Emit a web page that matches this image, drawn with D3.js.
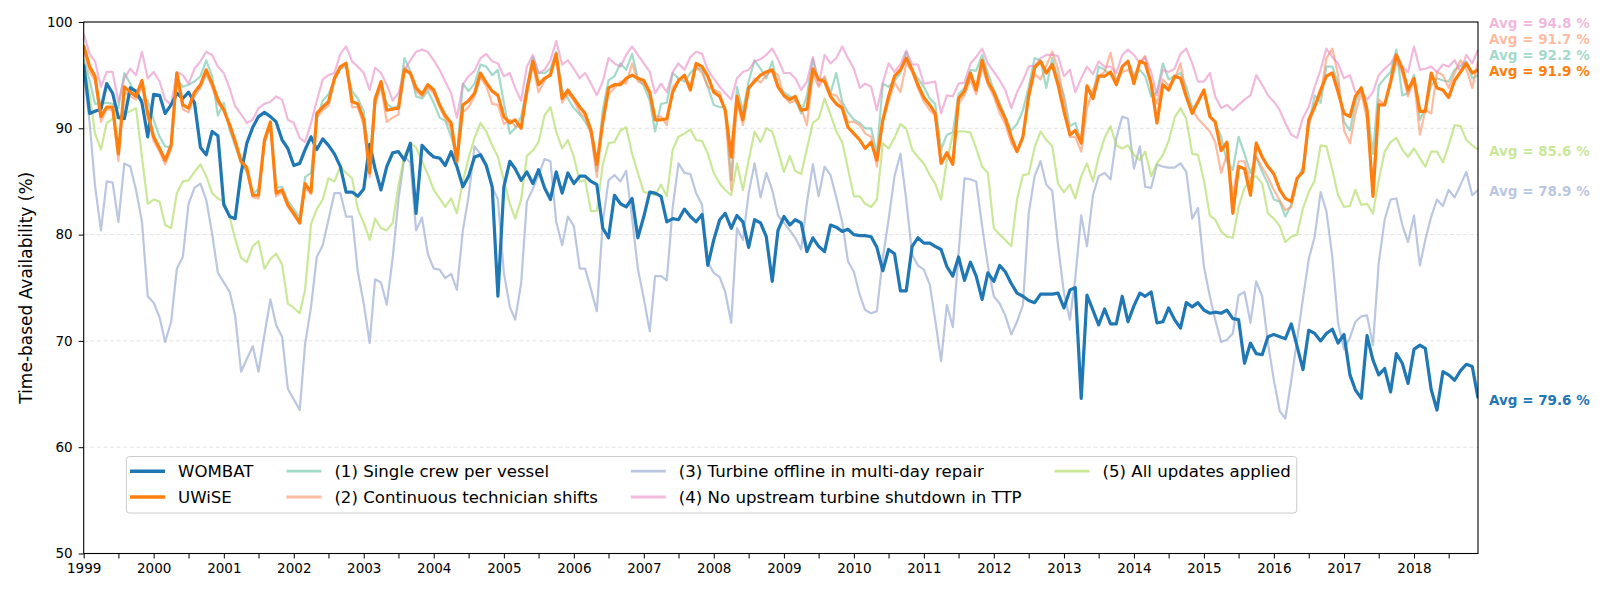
<!DOCTYPE html>
<html>
<head>
<meta charset="utf-8">
<script src="https://cdn.jsdelivr.net/npm/d3@7"></script>
<style>
  html, body { margin: 0; padding: 0; background: #ffffff; }
  svg { display: block; font-family: "DejaVu Sans", sans-serif; }
</style>
</head>
<body>
<svg id="chart" width="1607" height="597"></svg>
<script>
// ---------------- DATA (monthly, Jan 1999 .. Dec 2018) ----------------
const startMonth = Date.UTC(1999, 0, 1);
const endMonth = Date.UTC(2018, 11, 1);
const yTicks = [50, 60, 70, 80, 90, 100];

const wombat = [
  96.0, 91.4, 91.6, 91.8, 94.2, 93.3, 91.0, 90.9, 93.8, 93.5, 92.4, 89.2,
  93.2, 93.1, 91.4, 92.2, 93.3, 92.8, 93.4, 92.4, 88.2, 87.5, 89.7, 89.3,
  82.8, 81.7, 81.5, 85.8, 88.6, 90.1, 91.1, 91.5, 91.1, 90.6, 88.9, 88.1,
  86.5, 86.7, 88.0, 89.2, 88.0, 89.0, 88.4, 87.6, 86.4, 84.0, 84.0, 83.6,
  84.3, 88.5, 86.2, 84.2, 86.4, 87.7, 87.8, 87.0, 88.6, 82.0, 88.4, 87.8,
  87.3, 87.2, 86.5, 87.8, 86.4, 84.5, 85.5, 87.3, 87.5, 86.5, 84.5, 74.2,
  84.5, 86.9, 86.2, 85.1, 85.9, 84.8, 86.1, 84.4, 83.3, 85.9, 83.9, 85.8,
  84.8, 85.5, 85.5, 85.0, 84.7, 80.6, 79.7, 83.7, 82.9, 82.6, 83.4, 79.7,
  81.7, 84.0, 83.9, 83.6, 81.2, 81.5, 81.4, 82.4, 81.7, 81.2, 81.9, 77.1,
  79.5, 81.4, 82.0, 80.6, 81.8, 81.2, 78.8, 81.4, 81.1, 79.8, 75.6, 80.4,
  81.7, 80.9, 81.4, 81.1, 78.4, 79.7, 78.9, 78.4, 80.9, 80.7, 80.3, 80.5,
  80.0, 79.9, 79.9, 79.8, 78.8, 76.6, 78.6, 78.2, 74.7, 74.7, 78.9, 79.7,
  79.2, 79.2, 78.9, 78.6, 77.0, 76.1, 77.9, 75.7, 77.4, 76.1, 73.9, 76.4,
  75.6, 77.1, 76.5, 75.4, 74.5, 74.2, 73.8, 73.6, 74.4, 74.4, 74.4, 74.5,
  73.1, 74.8, 75.0, 64.6, 74.3, 72.9, 71.5, 73.0, 71.6, 71.6, 74.2, 71.8,
  73.3, 74.5, 74.2, 74.6, 71.7, 71.8, 73.1, 72.0, 71.2, 73.6, 73.2, 73.6,
  72.9, 72.6, 72.7, 72.6, 72.9, 72.1, 72.0, 67.9, 69.8, 68.8, 68.7, 70.4,
  70.6, 70.4, 70.2, 71.6, 69.5, 67.3, 71.0, 70.7, 70.0, 70.7, 71.1, 69.8,
  70.6, 66.8, 65.4, 64.6, 70.5, 68.2, 66.8, 67.4, 65.2, 68.8, 67.9, 66.0,
  69.2, 69.6, 69.3, 65.4, 63.5, 67.1, 66.8, 66.3, 67.2, 67.8, 67.6, 64.6
];

const uwise = [
  97.8, 95.8, 94.9, 91.1, 92.0, 92.0, 87.6, 93.9, 93.4, 93.0, 94.5, 91.4,
  89.2, 88.1, 87.0, 88.4, 95.2, 92.2, 91.9, 93.4, 94.1, 95.5, 94.2, 92.7,
  91.7, 90.3, 88.8, 86.9, 86.3, 83.7, 83.7, 88.9, 90.6, 83.9, 84.2, 82.8,
  82.0, 81.1, 84.8, 84.0, 91.4, 92.0, 92.5, 94.7, 95.8, 96.1, 92.5, 92.3,
  90.8, 85.8, 92.7, 94.4, 91.7, 91.8, 91.9, 95.5, 95.2, 93.8, 93.2, 94.1,
  93.6, 92.2, 91.2, 90.5, 86.9, 92.2, 92.6, 93.3, 95.2, 94.3, 93.5, 93.1,
  91.1, 90.5, 90.8, 90.0, 93.6, 96.3, 94.1, 94.7, 95.0, 97.0, 92.8, 93.6,
  92.8, 92.0, 91.4, 89.8, 86.6, 90.6, 93.8, 94.1, 94.1, 94.7, 95.0, 94.7,
  94.5, 93.4, 90.8, 90.8, 90.9, 93.4, 94.5, 95.0, 93.6, 96.1, 95.8, 94.9,
  93.4, 93.0, 91.7, 87.3, 93.0, 90.8, 93.8, 94.4, 95.0, 95.3, 95.5, 93.9,
  93.1, 92.7, 93.0, 91.7, 91.8, 95.6, 94.6, 94.4, 93.0, 92.3, 91.9, 90.1,
  89.5, 88.9, 88.1, 88.7, 87.0, 90.8, 93.0, 94.9, 95.5, 96.6, 95.5, 94.1,
  92.9, 92.2, 91.4, 86.7, 87.7, 86.6, 92.8, 93.5, 95.2, 93.6, 96.4, 94.4,
  93.4, 92.0, 90.9, 89.2, 87.8, 89.2, 93.1, 95.7, 96.3, 95.2, 96.0, 94.1,
  91.6, 89.4, 89.8, 88.6, 94.0, 92.8, 94.9, 94.9, 95.3, 94.1, 95.8, 96.3,
  94.2, 96.3, 96.1, 94.2, 90.5, 94.1, 93.6, 94.9, 94.7, 93.0, 91.4, 92.5,
  93.6, 91.1, 90.6, 87.9, 88.7, 82.0, 86.4, 86.2, 83.7, 88.6, 87.3, 86.4,
  85.7, 84.2, 83.4, 83.1, 85.3, 85.9, 90.8, 92.0, 93.6, 94.9, 95.2, 93.4,
  91.4, 91.1, 93.0, 93.8, 91.7, 83.6, 92.2, 92.2, 94.4, 96.9, 95.6, 93.6,
  94.7, 91.6, 91.6, 95.2, 93.8, 93.6, 92.9, 94.5, 95.3, 96.1, 95.2, 95.5
];

const singleCrew = [
  96.5, 94.5, 92.3, 92.4, 92.4, 92.3, 91.9, 95.2, 94.2, 93.1, 92.7, 92.6,
  90.8, 89.2, 88.3, 88.2, 94.7, 93.9, 94.1, 94.4, 94.9, 96.4, 94.9, 91.2,
  92.4, 89.8, 88.4, 86.7, 85.9, 83.8, 84.3, 88.6, 90.4, 84.4, 84.5, 83.2,
  82.4, 81.6, 85.4, 85.8, 90.9, 92.6, 93.2, 94.6, 95.6, 95.8, 93.5, 92.8,
  91.6, 86.8, 93.0, 94.1, 92.3, 91.9, 92.1, 96.6, 95.4, 93.0, 92.8, 93.5,
  92.4, 91.0, 90.7, 89.2, 87.3, 94.2, 93.5, 94.2, 96.0, 95.8, 95.0, 95.5,
  92.4, 89.5, 90.0, 91.1, 93.9, 96.7, 95.2, 95.2, 95.6, 97.2, 93.6, 92.8,
  91.9, 91.3, 90.6, 89.7, 86.0, 91.7, 94.5, 94.9, 96.1, 95.5, 97.0, 94.7,
  94.0, 92.6, 89.7, 92.3, 92.4, 95.2, 94.7, 94.4, 95.2, 95.8, 95.5, 93.9,
  92.2, 92.0, 92.0, 85.1, 93.9, 91.6, 94.4, 96.4, 95.6, 94.7, 96.3, 93.9,
  93.4, 93.0, 92.7, 91.4, 93.1, 96.5, 94.5, 94.7, 93.3, 95.2, 92.5, 91.5,
  90.8, 90.5, 90.0, 90.0, 87.6, 94.2, 93.9, 94.5, 95.2, 97.2, 95.5, 94.7,
  93.9, 92.8, 92.3, 88.0, 89.4, 89.6, 93.2, 93.8, 95.5, 95.4, 96.9, 95.2,
  93.6, 92.4, 91.1, 89.8, 90.4, 91.7, 93.9, 96.6, 96.4, 93.8, 96.6, 94.7,
  93.1, 90.2, 90.5, 88.8, 93.8, 93.1, 95.8, 95.5, 95.0, 94.4, 95.8, 96.4,
  95.0, 95.5, 94.9, 93.0, 93.4, 96.1, 94.6, 94.9, 95.2, 93.9, 91.9, 92.4,
  93.5, 91.3, 90.5, 89.2, 86.9, 86.1, 89.2, 87.6, 85.8, 87.3, 85.9, 84.8,
  83.3, 83.1, 81.7, 82.8, 85.1, 86.4, 90.3, 93.1, 92.4, 95.8, 95.8, 94.2,
  90.6, 89.8, 92.4, 93.9, 92.1, 87.6, 94.0, 94.7, 95.3, 97.4, 93.1, 93.3,
  95.0, 90.8, 91.9, 94.0, 94.7, 94.5, 94.4, 95.5, 95.9, 96.3, 94.7, 95.0
];

const continuousShifts = [
  97.3, 95.3, 94.5, 90.6, 91.8, 91.7, 86.9, 93.5, 93.0, 92.7, 94.0, 91.0,
  88.8, 87.8, 86.6, 88.0, 94.8, 91.8, 91.5, 93.0, 93.8, 95.1, 93.9, 92.3,
  91.8, 90.0, 88.5, 86.8, 86.0, 83.5, 83.4, 88.6, 90.3, 83.6, 84.0, 82.6,
  81.8, 81.0, 84.4, 83.8, 91.0, 91.7, 92.1, 94.5, 95.6, 96.2, 92.0, 92.0,
  90.3, 85.4, 92.2, 94.0, 90.6, 91.0, 91.3, 95.8, 95.0, 93.5, 93.0, 93.8,
  93.3, 92.0, 90.9, 90.0, 86.6, 91.5, 92.0, 93.0, 94.8, 94.0, 92.3, 92.2,
  90.4, 90.8, 90.2, 90.1, 93.0, 96.0, 93.4, 94.5, 95.2, 96.8, 92.4, 93.3,
  92.6, 91.5, 91.0, 89.4, 85.4, 90.5, 93.2, 93.8, 94.4, 94.2, 96.1, 94.4,
  94.2, 93.2, 91.1, 91.1, 90.3, 93.9, 94.4, 94.9, 93.9, 95.8, 95.2, 93.9,
  93.6, 93.4, 91.4, 84.2, 92.5, 90.3, 93.6, 94.7, 94.3, 95.0, 95.4, 95.0,
  93.0, 92.4, 92.6, 91.9, 90.3, 95.2, 93.9, 94.9, 93.2, 93.1, 92.2, 90.6,
  90.6, 90.3, 89.5, 89.2, 86.4, 90.6, 92.5, 94.3, 93.4, 96.1, 95.3, 93.8,
  92.5, 91.7, 91.2, 86.8, 87.5, 86.9, 92.3, 93.1, 94.6, 93.2, 95.8, 94.1,
  93.0, 91.4, 90.4, 88.6, 87.8, 89.3, 92.8, 95.1, 94.6, 95.9, 97.2, 95.6,
  92.6, 89.2, 89.2, 87.8, 91.9, 93.6, 94.9, 95.3, 97.1, 94.4, 95.3, 95.5,
  94.8, 96.2, 96.8, 93.9, 92.3, 94.6, 94.0, 94.6, 96.1, 93.1, 91.7, 90.9,
  90.3, 89.7, 88.7, 85.8, 87.5, 83.8, 86.9, 86.9, 84.9, 87.4, 86.3, 85.4,
  84.2, 83.2, 82.3, 82.6, 85.2, 86.0, 90.2, 92.3, 93.1, 96.6, 97.5, 95.0,
  89.8, 88.6, 91.4, 93.4, 90.8, 84.5, 92.7, 92.2, 94.1, 96.3, 95.2, 93.0,
  94.5, 89.4, 91.7, 91.4, 95.3, 95.0, 93.8, 95.2, 96.4, 95.6, 93.8, 96.3
];

const offlineRepair = [
  95.5, 90.5, 84.6, 80.4, 85.0, 84.9, 81.2, 86.7, 86.4, 84.2, 81.2, 74.2,
  73.6, 72.2, 69.9, 71.8, 76.8, 77.9, 82.9, 84.4, 84.8, 83.3, 80.1, 76.4,
  75.5, 74.6, 72.4, 67.1, 68.3, 69.5, 67.1, 70.6, 73.9, 71.5, 70.4, 65.5,
  64.5, 63.5, 69.7, 73.2, 77.9, 79.0, 81.4, 83.9, 83.9, 81.7, 81.7, 76.5,
  73.5, 69.8, 75.8, 75.5, 73.4, 77.8, 83.3, 87.3, 86.8, 80.4, 81.6, 78.2,
  76.8, 76.7, 75.9, 76.3, 74.8, 80.4, 83.6, 88.3, 87.6, 86.6, 84.5, 83.3,
  76.4, 73.2, 72.0, 75.4, 83.1, 84.3, 85.6, 87.1, 86.9, 81.2, 79.0, 81.7,
  80.8, 76.8, 76.8, 74.8, 72.8, 81.1, 85.1, 85.6, 85.0, 86.0, 81.5, 76.8,
  74.0, 70.9, 76.1, 76.1, 75.7, 82.6, 86.7, 85.8, 85.7, 83.9, 82.8, 77.4,
  76.4, 76.0, 74.6, 71.7, 80.6, 79.5, 83.9, 86.7, 83.5, 85.8, 84.2, 81.8,
  81.1, 80.4, 79.7, 78.6, 83.0, 86.6, 83.6, 86.4, 85.6, 83.5, 81.2, 77.5,
  76.5, 74.3, 72.9, 72.6, 72.8, 77.8, 81.4, 85.5, 87.6, 83.3, 78.1, 77.1,
  76.7, 75.3, 72.0, 68.1, 73.4, 71.3, 78.2, 85.3, 85.2, 85.0, 80.8, 77.1,
  74.2, 73.5, 72.4, 70.6, 71.8, 73.4, 82.0, 85.5, 86.9, 84.7, 84.1, 79.0,
  74.5, 72.0, 75.9, 81.8, 78.9, 83.7, 85.5, 85.8, 85.2, 89.1, 91.1, 90.9,
  86.2, 88.3, 84.5, 84.4, 86.6, 86.4, 86.3, 86.3, 86.7, 85.9, 81.5, 82.5,
  77.0, 74.2, 72.0, 69.9, 70.1, 70.7, 74.3, 74.6, 71.7, 75.6, 74.2, 69.8,
  66.3, 63.4, 62.7, 66.3, 70.1, 74.0, 77.7, 79.8, 84.0, 82.2, 77.9, 71.7,
  69.2, 70.3, 71.8, 72.3, 72.4, 69.6, 77.3, 81.4, 83.3, 83.4, 80.9, 79.3,
  81.8, 77.1, 79.5, 81.7, 83.3, 82.7, 84.2, 83.5, 84.7, 85.9, 83.7, 84.2
];

const noUpstreamShutdown = [
  98.9, 97.0, 96.3, 93.9, 95.3, 95.3, 92.5, 94.7, 95.6, 95.0, 97.2, 94.7,
  95.3, 94.4, 92.7, 92.2, 95.3, 95.0, 94.2, 95.6, 96.3, 97.2, 96.9, 95.8,
  95.2, 93.7, 92.1, 91.3, 90.5, 90.8, 91.9, 92.3, 92.5, 93.0, 92.7, 90.8,
  90.5, 89.1, 88.7, 90.5, 92.6, 94.6, 95.0, 95.2, 97.0, 97.7, 96.3, 95.8,
  95.2, 93.6, 95.7, 95.2, 94.1, 92.6, 93.3, 95.4, 96.4, 97.2, 97.4, 97.2,
  96.4, 95.5, 94.4, 93.3, 91.0, 94.1, 94.9, 95.4, 96.6, 97.0, 96.3, 96.1,
  94.9, 95.2, 93.8, 92.6, 95.8, 96.9, 95.2, 95.5, 96.4, 98.2, 96.0, 96.4,
  95.6, 94.7, 95.2, 94.2, 93.1, 94.4, 96.6, 96.1, 95.8, 96.9, 97.7, 96.9,
  96.1, 95.3, 93.3, 94.2, 93.4, 95.3, 96.1, 95.5, 96.7, 97.2, 97.0, 95.5,
  94.7, 93.9, 93.3, 92.7, 94.7, 95.3, 95.5, 96.3, 96.5, 96.9, 97.5, 96.5,
  95.2, 95.2, 94.7, 93.6, 94.4, 96.7, 94.1, 96.9, 96.1, 96.6, 97.7, 96.6,
  95.6, 93.8, 94.2, 93.9, 91.7, 94.3, 96.1, 95.3, 96.0, 97.3, 96.0, 96.0,
  94.2, 94.3, 94.4, 91.4, 93.1, 93.0, 94.2, 94.3, 96.1, 96.7, 97.5, 96.1,
  95.3, 94.5, 93.6, 91.9, 93.4, 94.5, 95.8, 95.9, 96.6, 96.9, 96.9, 96.8,
  94.9, 95.5, 93.4, 94.7, 95.8, 95.1, 96.3, 95.8, 95.8, 95.2, 96.9, 97.4,
  96.9, 96.1, 96.7, 95.3, 93.1, 95.5, 95.3, 95.6, 97.0, 97.5, 96.1, 94.4,
  94.4, 95.2, 93.0, 91.9, 92.2, 91.7, 92.2, 92.7, 93.1, 95.0, 94.1, 93.1,
  92.5, 91.7, 90.5, 89.4, 89.1, 91.0, 92.0, 93.9, 95.5, 97.5, 96.7, 96.1,
  94.7, 95.0, 93.4, 93.4, 92.7, 93.4, 95.0, 95.6, 96.1, 97.0, 95.8, 95.3,
  97.7, 95.5, 95.6, 95.8, 95.3, 96.0, 95.8, 96.4, 95.3, 96.9, 96.1, 97.4
];

const allUpdates = [
  96.1, 93.2, 89.5, 88.0, 90.5, 90.9, 91.0, 91.4, 91.6, 91.9, 87.3, 82.9,
  83.3, 83.1, 80.9, 80.6, 83.9, 85.0, 85.1, 85.9, 86.6, 85.5, 83.9, 83.4,
  83.1, 81.6, 79.6, 77.8, 77.4, 78.9, 79.4, 76.8, 77.7, 78.2, 77.2, 73.5,
  73.1, 72.6, 74.8, 81.0, 82.4, 83.3, 85.3, 85.0, 86.4, 85.8, 85.3, 82.4,
  81.1, 79.5, 81.5, 80.6, 80.4, 81.1, 84.6, 87.4, 88.6, 88.2, 86.9, 85.7,
  84.2, 83.4, 82.6, 83.4, 82.0, 85.0, 87.2, 89.1, 90.5, 89.7, 88.4, 87.3,
  85.1, 82.9, 81.5, 83.3, 87.4, 87.9, 88.7, 91.2, 92.0, 89.7, 88.1, 88.9,
  87.3, 85.0, 85.1, 82.2, 82.2, 86.6, 88.6, 88.7, 89.8, 90.1, 87.6, 85.8,
  84.0, 83.9, 83.7, 84.7, 83.6, 88.0, 89.2, 89.5, 89.9, 88.9, 88.8, 87.6,
  85.8, 84.8, 84.2, 83.7, 86.7, 84.2, 87.0, 89.7, 88.7, 90.0, 89.7, 87.9,
  85.9, 87.4, 86.0, 85.7, 88.1, 90.5, 90.9, 92.8, 91.3, 89.7, 88.7, 86.2,
  83.6, 83.6, 82.9, 82.6, 83.3, 88.6, 88.1, 89.1, 90.4, 90.0, 88.0, 87.3,
  86.7, 85.6, 84.8, 83.3, 87.0, 89.4, 89.7, 89.7, 89.6, 88.1, 86.4, 85.8,
  80.6, 80.0, 79.5, 78.9, 83.3, 85.6, 85.7, 88.2, 89.7, 88.9, 88.3, 84.8,
  84.0, 84.7, 83.4, 85.5, 86.7, 85.0, 87.3, 89.1, 90.2, 88.4, 88.1, 88.4,
  87.5, 87.0, 87.8, 85.5, 86.7, 87.5, 88.8, 91.0, 91.9, 90.9, 87.6, 87.5,
  85.1, 81.8, 81.4, 80.3, 79.8, 79.7, 82.6, 84.4, 85.2, 85.5, 84.8, 82.0,
  81.5, 80.8, 79.3, 79.8, 80.0, 82.5, 84.0, 85.1, 88.4, 88.3, 86.1, 83.7,
  82.6, 82.7, 84.2, 82.8, 82.9, 82.0, 85.1, 87.8, 88.7, 89.1, 88.0, 87.3,
  88.1, 87.2, 86.4, 87.8, 87.8, 86.8, 88.4, 90.3, 90.2, 88.9, 88.4, 88.0
];

const seriesNames = [
  "WOMBAT", "UWiSE",
  "(1) Single crew per vessel", "(2) Continuous technician shifts",
  "(3) Turbine offline in multi-day repair", "(4) No upstream turbine shutdown in TTP",
  "(5) All updates applied"
];
const seriesValues = [wombat, uwise, singleCrew, continuousShifts, offlineRepair, noUpstreamShutdown, allUpdates];
const seriesAverages = ["79.6", "91.9", "92.2", "91.7", "78.9", "94.8", "85.6"];

// ---------------- STYLE ----------------
const seriesColors = ["#1f77b4", "#ff7f0e", "#66c2a5", "#fc8d62", "#8da0cb", "#e78ac3", "#a6d854"];
const seriesOpacity = [1, 1, 0.6, 0.6, 0.6, 0.6, 0.6];
const seriesWidth = [3.2, 3.2, 2.2, 2.2, 2.2, 2.2, 2.2];
const legendWidth = [3.6, 3.6, 2.8, 2.8, 2.8, 2.8, 2.8];
const drawOrder = [2, 3, 4, 5, 6, 0, 1];
const labelOrder = [5, 3, 2, 1, 6, 4, 0]; // top to bottom

const W = 1607, H = 597;
const X0 = 83.7, X1 = 1478, Y0 = 22, Y1 = 553.5;
const FONT = "'DejaVu Sans', sans-serif";
const LEGEND_FS = 16.6;

const months = d3.utcMonth.range(new Date(startMonth), new Date(Date.UTC(2019, 0, 1)));

const x = d3.scaleUtc().domain([new Date(startMonth), new Date(endMonth)]).range([X0, X1]);
const y = d3.scaleLinear().domain([50, 100]).range([Y1, Y0]);

const svg = d3.select("#chart");
svg.append("rect").attr("width", W).attr("height", H).attr("fill", "#ffffff");

// grid
svg.append("g").selectAll("line")
  .data(yTicks.filter(t => t > 50 && t < 100))
  .join("line")
  .attr("x1", X0).attr("x2", X1)
  .attr("y1", d => y(d)).attr("y2", d => y(d))
  .attr("stroke", "#b0b0b0").attr("stroke-opacity", 0.35)
  .attr("stroke-width", 1).attr("stroke-dasharray", "4,2.6");

// lines
svg.append("clipPath").attr("id", "plotclip")
  .append("rect").attr("x", X0).attr("y", Y0).attr("width", X1 - X0).attr("height", Y1 - Y0);

const lineGen = d3.line()
  .x((d, i) => x(months[i]))
  .y(d => y(d));

const plotG = svg.append("g").attr("clip-path", "url(#plotclip)");
drawOrder.forEach(k => {
  plotG.append("path")
    .datum(seriesValues[k])
    .attr("d", lineGen)
    .attr("fill", "none")
    .attr("stroke", seriesColors[k])
    .attr("stroke-opacity", seriesOpacity[k])
    .attr("stroke-width", seriesWidth[k])
    .attr("stroke-linejoin", "round")
    .attr("stroke-linecap", "butt");
});

// axes
const xTickDates = d3.utcMonth.every(6).range(new Date(startMonth), new Date(Date.UTC(2019, 0, 1)))
  .filter(d => d <= new Date(endMonth));
const xAxis = d3.axisBottom(x)
  .tickValues(xTickDates)
  .tickSize(5).tickPadding(5)
  .tickFormat(d => d.getUTCMonth() === 0 ? d3.utcFormat("%Y")(d) : "");
const gx = svg.append("g").attr("transform", `translate(0,${Y1})`).call(xAxis);
gx.select(".domain").remove();
gx.selectAll("text").attr("font-size", 13.5).attr("font-family", FONT).attr("fill", "#000");
gx.selectAll("line").attr("stroke", "#000").attr("stroke-width", 1);

const yAxis = d3.axisLeft(y).tickValues(yTicks).tickSize(5).tickPadding(6);
const gy = svg.append("g").attr("transform", `translate(${X0},0)`).call(yAxis);
gy.select(".domain").remove();
gy.selectAll("text").attr("font-size", 13.5).attr("font-family", FONT).attr("fill", "#000");
gy.selectAll("line").attr("stroke", "#000").attr("stroke-width", 1);

// frame
svg.append("rect")
  .attr("x", X0).attr("y", Y0).attr("width", X1 - X0).attr("height", Y1 - Y0)
  .attr("fill", "none").attr("stroke", "#000").attr("stroke-width", 1.1);

// y label
svg.append("text")
  .attr("transform", `translate(26,${(Y0 + Y1) / 2}) rotate(-90)`)
  .attr("text-anchor", "middle").attr("dominant-baseline", "central")
  .attr("font-size", 17).attr("font-family", FONT).attr("fill", "#000")
  .text("Time-based Availability (%)");

// average labels
const labelPos = new Array(labelOrder.length);
for (let n = labelOrder.length - 1; n >= 0; n--) {
  const k = labelOrder[n];
  const vals = seriesValues[k];
  const yv = y(vals[vals.length - 1]);
  labelPos[n] = (n === labelOrder.length - 1) ? yv : Math.min(yv, labelPos[n + 1] - 16);
}
labelOrder.forEach((k, n) => {
  svg.append("text")
    .attr("x", 1489).attr("y", labelPos[n] + 1.5)
    .attr("dominant-baseline", "central")
    .attr("font-size", 13.5).attr("font-weight", "bold").attr("font-family", FONT)
    .attr("fill", seriesColors[k]).attr("fill-opacity", seriesOpacity[k])
    .text(`Avg = ${seriesAverages[k]} %`);
});

// legend
const legendCols = [[0, 1], [2, 3], [4, 5], [6]];
const legendG = svg.append("g");
const legendBox = legendG.append("rect");
const rowY = [471.2, 497.0];
let colX = 130;
const measure = svg.append("text").attr("font-size", LEGEND_FS).attr("font-family", FONT).attr("visibility", "hidden");
legendCols.forEach(col => {
  let maxW = 0;
  col.forEach((k, r) => {
    legendG.append("line")
      .attr("x1", colX).attr("x2", colX + 35)
      .attr("y1", rowY[r]).attr("y2", rowY[r])
      .attr("stroke", seriesColors[k]).attr("stroke-opacity", seriesOpacity[k])
      .attr("stroke-width", legendWidth[k]);
    legendG.append("text")
      .attr("x", colX + 48).attr("y", rowY[r])
      .attr("dominant-baseline", "central")
      .attr("font-size", LEGEND_FS).attr("font-family", FONT).attr("fill", "#000")
      .text(seriesNames[k]);
    measure.text(seriesNames[k]);
    maxW = Math.max(maxW, measure.node().getComputedTextLength());
  });
  colX = colX + 48 + maxW + 33;
});
measure.remove();
const legendRight = colX - 33 + 6;
legendBox
  .attr("x", 126.4).attr("y", 456.5)
  .attr("width", legendRight - 126.4).attr("height", 56.5)
  .attr("rx", 3).attr("ry", 3)
  .attr("fill", "#ffffff").attr("fill-opacity", 0.8)
  .attr("stroke", "#cccccc").attr("stroke-width", 1);
</script>
</body>
</html>
